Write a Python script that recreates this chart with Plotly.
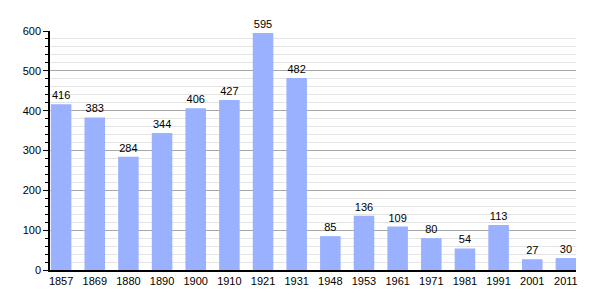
import plotly.graph_objects as go

years = ["1857", "1869", "1880", "1890", "1900", "1910", "1921", "1931",
         "1948", "1953", "1961", "1971", "1981", "1991", "2001", "2011"]
population = [416, 383, 284, 344, 406, 427, 595, 482, 85, 136, 109, 80, 54, 113, 27, 30]

fig = go.Figure(go.Bar(
    x=years, y=population,
    marker=dict(color="#99b1ff", line=dict(width=0)),
    text=[str(v) for v in population], textposition="outside",
    textfont=dict(family="Liberation Sans, Arial", size=11, color="black"),
    cliponaxis=False,
))

fig.update_layout(
    width=605, height=300,
    margin=dict(l=50, r=29, t=31, b=30),
    plot_bgcolor="white", paper_bgcolor="white",
    bargap=0.39, showlegend=False,
    font=dict(family="Liberation Sans, Arial", size=11, color="black"),
)
fig.update_xaxes(
    type="category", range=[-0.33, 15.3],
    showline=True, linecolor="black", linewidth=1.5,
    ticks="", tickfont=dict(size=11), showgrid=False,
)
fig.update_yaxes(
    range=[0, 600], dtick=100, showline=True, linecolor="black", linewidth=1.5,
    ticks="outside", ticklen=5, tickcolor="black",
    showgrid=True, gridcolor="#a8a8a8", gridwidth=1, zeroline=False,
    minor=dict(dtick=20, ticks="outside", ticklen=3, tickcolor="black",
               showgrid=True, gridcolor="#e3e3e3"),
    tickfont=dict(size=11),
)

fig.write_html("out.html")
